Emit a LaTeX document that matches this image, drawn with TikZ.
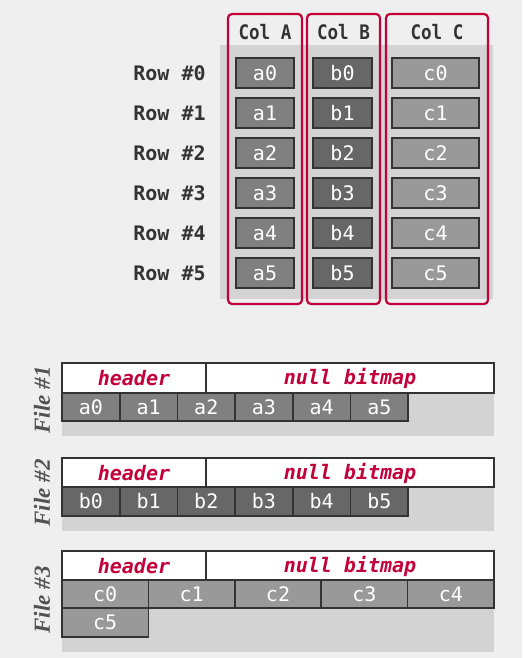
\documentclass[tikz,border=0pt]{standalone}
\usepackage{fontspec}
\setmainfont{Liberation Serif}
\setmonofont{DejaVu Sans Mono}
\usepackage{tikz}

\definecolor{bgcol}{HTML}{EFEFEF}
\definecolor{panelcol}{HTML}{D3D3D3}
\definecolor{inkcol}{HTML}{333333}
\definecolor{acol}{HTML}{808080}
\definecolor{bcol}{HTML}{676767}
\definecolor{ccol}{HTML}{999999}
\definecolor{redcol}{HTML}{C4003A}

\tikzset{
  cell/.style={draw=inkcol, line width=1.3pt, inner sep=0pt, text=white,
    font=\ttfamily\fontsize{20}{20}\selectfont},
  acell/.style={cell, fill=acol, minimum width=58pt, minimum height=30pt},
  bcell/.style={cell, fill=bcol, minimum width=59pt, minimum height=30pt},
  ccell/.style={cell, fill=ccol, minimum width=87pt, minimum height=30pt},
  label/.style={text=inkcol, inner sep=0pt, font=\ttfamily\bfseries\fontsize{20}{20}\selectfont},
  collabel/.style={label, xscale=0.88},
  colbox/.style={draw=redcol, line width=2.2pt, rounded corners=4pt},
  hdrbox/.style={draw=inkcol, fill=white, line width=1.6pt},
  hdrtext/.style={text=redcol, inner sep=0pt, font=\ttfamily\bfseries\itshape\fontsize{20}{20}\selectfont},
  filelab/.style={text=inkcol!85, rotate=90, inner sep=0pt, font=\bfseries\itshape\fontsize{23}{23}\selectfont},
}

\begin{document}
\begin{tikzpicture}[x=1pt,y=-1pt]
    \fill[bgcol] (0,0) rectangle (522,658);
    \useasboundingbox (0,0) rectangle (522,658);
    % rows and columns
    \fill[panelcol] (220,45) rectangle (493,299);
    \foreach \i in {0,...,5} {
      \pgfmathsetmacro\y{73+40*\i}
      \node[label] (row\i) at (169.5,\y) {Row \#\i};
      \node[acell] (a\i) at (265,\y) {a\i};
      \node[bcell] (b\i) at (342.5,\y) {b\i};
      \node[ccell] (c\i) at (435.5,\y) {c\i};
    }
    \draw[colbox] (228,14) rectangle (302,304);
    \draw[colbox] (307,14) rectangle (380,304);
    \draw[colbox] (386,14) rectangle (488,304);
    \node[collabel] (colA) at (265,32) {Col A};
    \node[collabel] (colB) at (343.5,32) {Col B};
    \node[collabel] (colC) at (437,32) {Col C};
    % file #1
    \begin{scope}[shift={(0,363)}]
      \fill[panelcol] (62,0) rectangle (494,73);
      \draw[hdrbox] (62,0) rectangle (494,30);
      \draw[hdrbox] (206,0) -- (206,30);
      \node[hdrtext] (hdr1) at (134,15) {header};
      \node[hdrtext] (null1) at (350,15) {null bitmap};
      \foreach \i in {0,...,5}
        \node[acell, minimum width=57.7pt, minimum height=28pt, line width=1.6pt] (fa\i) at (90.85+57.7*\i,44) {a\i};
      \node[filelab] (file1) at (42,37) {File \#1};
    \end{scope}
    % file #2
    \begin{scope}[shift={(0,458)}]
      \fill[panelcol] (62,0) rectangle (494,73);
      \draw[hdrbox] (62,0) rectangle (494,29);
      \draw[hdrbox] (206,0) -- (206,29);
      \node[hdrtext] (hdr2) at (134,15) {header};
      \node[hdrtext] (null2) at (350,15) {null bitmap};
      \foreach \i in {0,...,5}
        \node[bcell, minimum width=57.7pt, minimum height=29pt, line width=1.6pt] (fb\i) at (90.85+57.7*\i,43.5) {b\i};
      \node[filelab] (file2) at (42,35) {File \#2};
    \end{scope}
    % file #3
    \begin{scope}[shift={(0,551)}]
      \fill[panelcol] (62,0) rectangle (494,101);
      \draw[hdrbox] (62,0) rectangle (494,29);
      \draw[hdrbox] (206,0) -- (206,29);
      \node[hdrtext] (hdr3) at (134,15) {header};
      \node[hdrtext] (null3) at (350,15) {null bitmap};
      \foreach \i in {0,...,4}
        \node[ccell, minimum width=86.4pt, minimum height=28pt, line width=1.6pt] (fc\i) at (105.2+86.4*\i,43) {c\i};
      \node[ccell, minimum width=86.4pt, minimum height=29pt, line width=1.6pt] (fc5) at (105.2,71.5) {c5};
      \node[filelab] (file3) at (42,49) {File \#3};
    \end{scope}
\end{tikzpicture}
\end{document}
